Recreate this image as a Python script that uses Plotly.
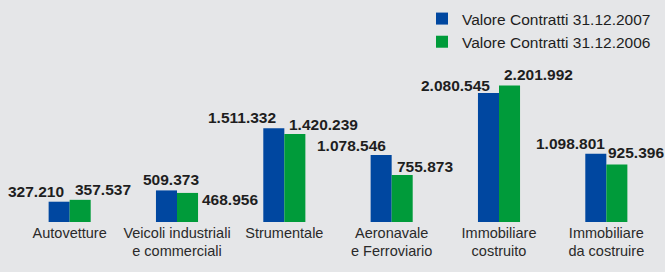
import plotly.graph_objects as go

# ---- data ----
categories = ["Autovetture", "Veicoli industriali<br>e commerciali", "Strumentale",
              "Aeronavale<br>e Ferroviario", "Immobiliare<br>costruito", "Immobiliare<br>da costruire"]
values_2007 = [327210, 509373, 1511332, 1078546, 2080545, 1098801]
values_2006 = [357537, 468956, 1420239, 755873, 2201992, 925396]
series_names = ["Valore Contratti 31.12.2007", "Valore Contratti 31.12.2006"]

# ---- style ----
BG = "#e5e6e8"
BLUE = "#0047a0"
GREEN = "#009b3a"
FONT = "Liberation Sans, Arial, sans-serif"
TEXT = "#1e1e1e"

# label placement offsets (pixels) relative to category centre / bar top
blue_dx = [-4, 24, -6.5, -4, -7, 1]
blue_dy = [10, 10.5, 11, 9.5, 7.5, 10.5]
green_dx = [3, 23, 2.5, 3, 3, 0]
green_dy = [10, -7, 9.7, 8.5, 11, 12.5]


def fmt(v):
    return f"{v:,}".replace(",", ".")


fig = go.Figure()
fig.add_trace(go.Bar(x=categories, y=values_2007, name=series_names[0],
                     marker=dict(color=BLUE, line=dict(width=0))))
fig.add_trace(go.Bar(x=categories, y=values_2006, name=series_names[1],
                     marker=dict(color=GREEN, line=dict(width=0))))

label_font = dict(family=FONT, size=15.5, color=TEXT, weight="bold")
annotations = []
for i, v in enumerate(values_2007):
    annotations.append(dict(x=i, y=v, xref="x", yref="y", text=fmt(v), showarrow=False,
                            xanchor="right", yanchor="middle", xshift=blue_dx[i], yshift=blue_dy[i],
                            font=label_font))
for i, v in enumerate(values_2006):
    annotations.append(dict(x=i, y=v, xref="x", yref="y", text=fmt(v), showarrow=False,
                            xanchor="left", yanchor="middle", xshift=green_dx[i], yshift=green_dy[i],
                            font=label_font))

fig.update_layout(
    width=665, height=272,
    paper_bgcolor=BG, plot_bgcolor=BG,
    margin=dict(l=16, r=5, t=62, b=50, autoexpand=False),
    barmode="group", bargap=0.608, bargroupgap=0,
    font=dict(family=FONT, size=15, color=TEXT),
    showlegend=True,
    legend=dict(xref="container", yref="container", x=422 / 665, xanchor="left",
                y=1 - 2 / 272, yanchor="top", bgcolor="rgba(0,0,0,0)",
                font=dict(family=FONT, size=15.5, color=TEXT), tracegroupgap=0,
                itemsizing="constant"),
    annotations=annotations,
    xaxis=dict(showline=False, showgrid=False, zeroline=False, ticks="",
               tickangle=0, automargin=False, range=[-0.5, len(categories) - 0.5],
               tickfont=dict(family=FONT, size=14.5, color="#2a2a2a")),
    yaxis=dict(visible=False, range=[0, 2580000], automargin=False),
)

fig.write_html("out.html", config={"displayModeBar": False},
               post_script="document.body.style.margin='0';document.body.style.background='%s';" % BG)
